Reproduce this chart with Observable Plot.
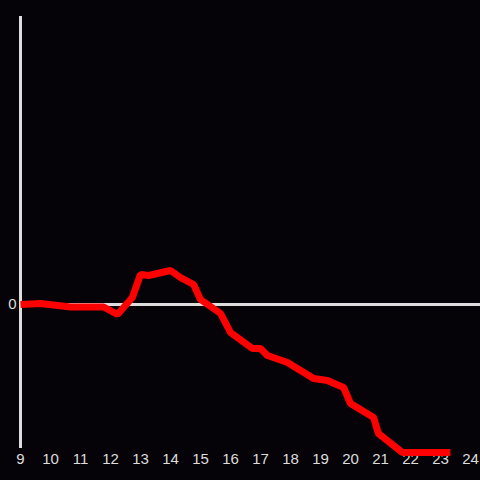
<!DOCTYPE html>
<html>
<head>
<meta charset="utf-8">
<script src="https://cdn.jsdelivr.net/npm/d3@7"></script>
<script src="https://cdn.jsdelivr.net/npm/@observablehq/plot@0.6"></script>
<style>
  html, body { margin: 0; padding: 0; background: #050308; }
</style>
</head>
<body>
<div id="chart"></div>
<script>
const hours = [9.0, 9.67, 10.67, 11.77, 11.93, 12.23, 12.73, 13.0, 13.27, 14.0, 14.33, 14.77, 15.0, 15.67, 16.0, 16.73, 17.0, 17.23, 17.9, 18.77, 19.23, 19.77, 20.0, 20.77, 20.93, 21.73, 23.33];
const values = [0, 0.1, -0.25, -0.25, -0.5, -1.0, 0.7, 3.0, 2.9, 3.4, 2.7, 2.0, 0.5, -0.9, -2.8, -4.4, -4.4, -5.1, -5.8, -7.4, -7.6, -8.3, -9.9, -11.3, -12.9, -14.8, -14.8];
const xTicks = [9, 10, 11, 12, 13, 14, 15, 16, 17, 18, 19, 20, 21, 22, 23, 24];
const yTicks = [0];

const data = hours.map((h, i) => ({hour: h, value: values[i]}));

const chart = Plot.plot({
  width: 480,
  height: 480,
  marginLeft: 20,
  marginRight: 0,
  marginTop: 16,
  marginBottom: 30,
  style: {background: "#050308", color: "#dddddd", fontFamily: "Liberation Sans, Arial, sans-serif"},
  x: {domain: [9, 24.333]},
  y: {domain: [-14.6, 28.8]},
  marks: [
    Plot.axisX({ticks: xTicks, tickSize: 0, tickPadding: 3, tickFormat: d => String(d), label: null, fontSize: 15, fill: "#dddddd"}),
    Plot.axisY({ticks: yTicks, tickSize: 0, tickPadding: 4, label: null, fontSize: 15, fill: "#dddddd"}),
    Plot.ruleY([0], {stroke: "#dddddd", strokeWidth: 3}),
    Plot.ruleX([9], {y1: -14.4, y2: 28.8, stroke: "#dddddd", strokeWidth: 3}),
    Plot.line(data, {x: "hour", y: "value", stroke: "#ff0000", strokeWidth: 7, strokeLinecap: "butt", strokeLinejoin: "miter"})
  ]
});
document.getElementById("chart").appendChild(chart);
</script>
</body>
</html>
